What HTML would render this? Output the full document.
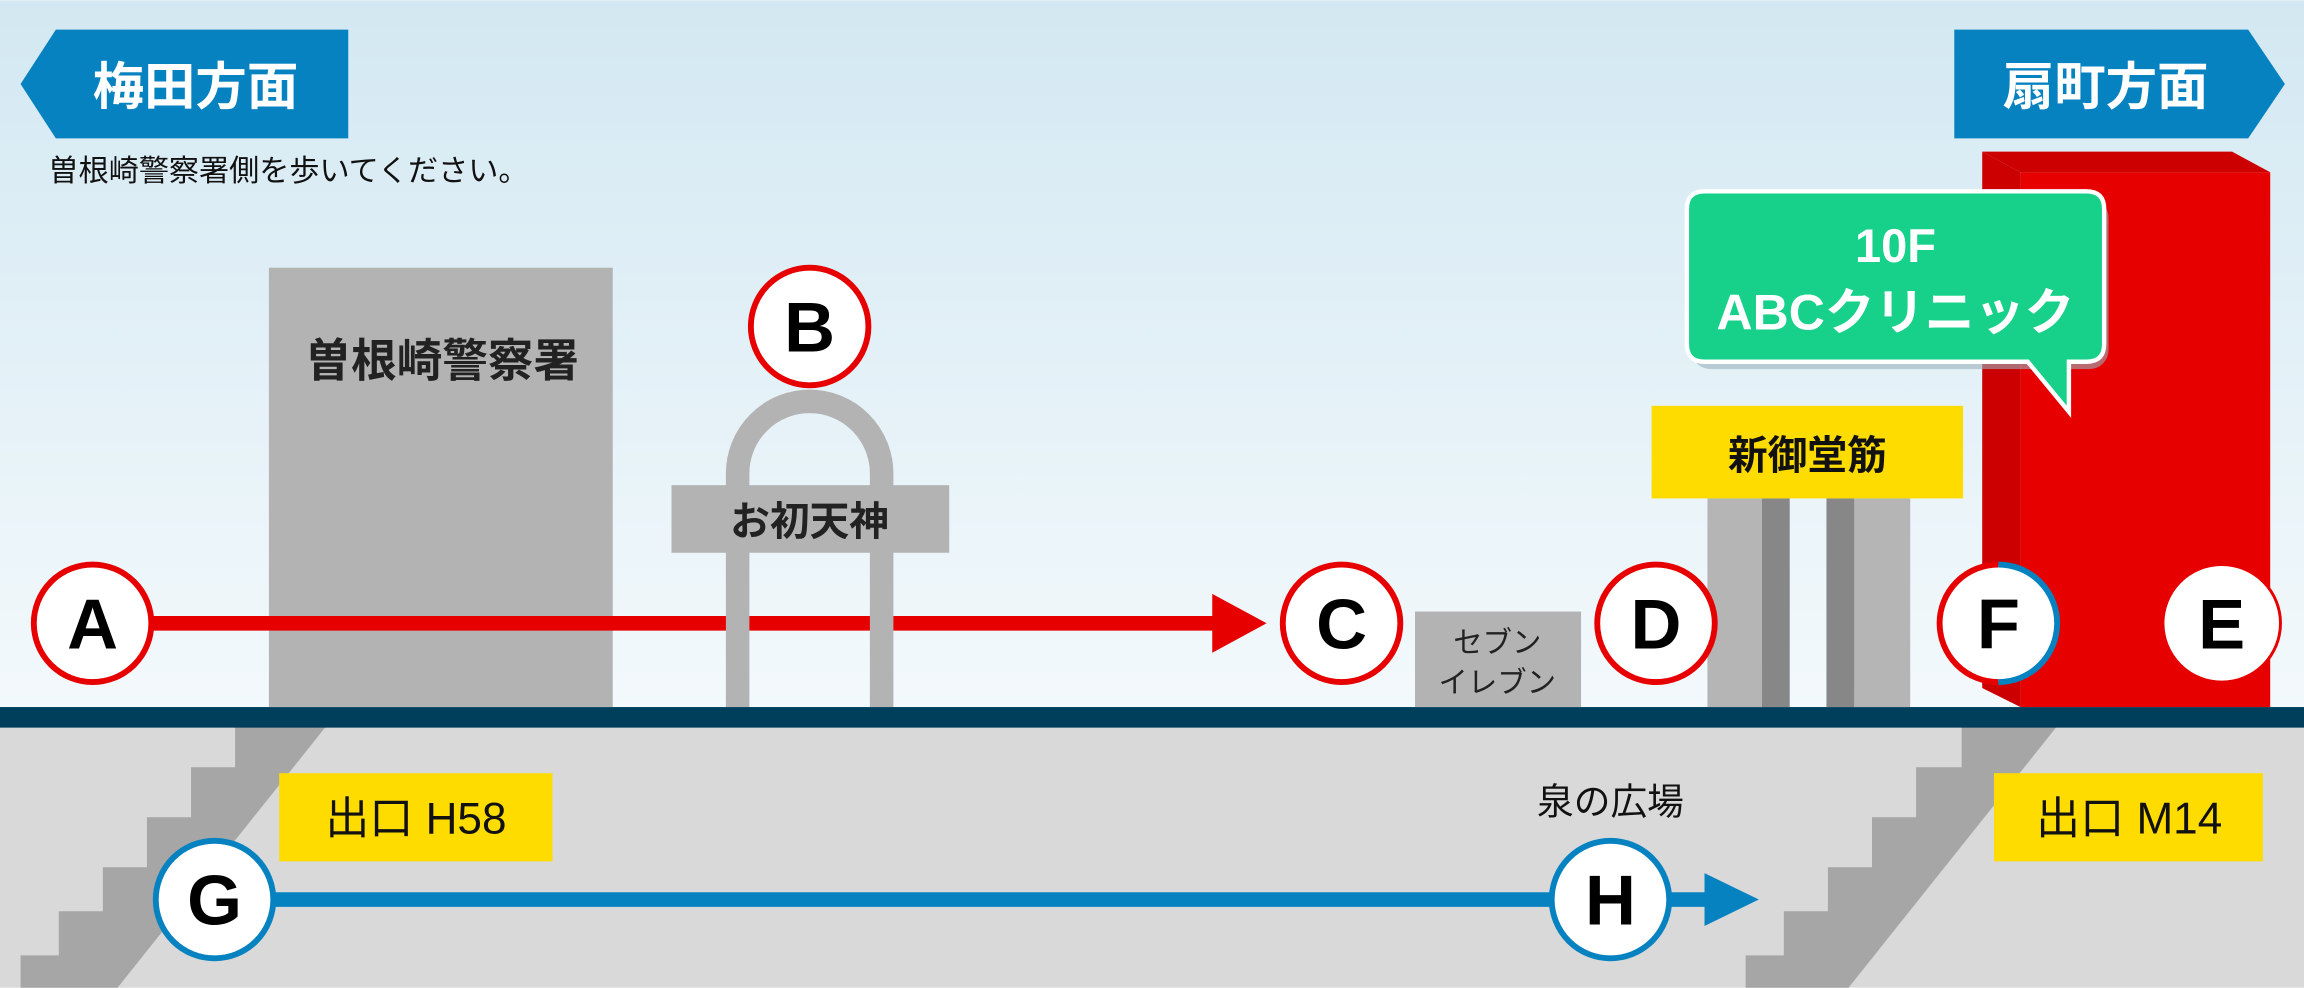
<!DOCTYPE html>
<html><head><meta charset="utf-8"><style>
html,body{margin:0;padding:0;width:2304px;height:988px;overflow:hidden;background:#fff}
svg{display:block}
text{font-family:"Liberation Sans","Noto Sans CJK JP",sans-serif}
</style></head><body>
<svg width="2304" height="988" viewBox="0 0 1568 672" xmlns="http://www.w3.org/2000/svg">
<defs>
<linearGradient id="sky" x1="0" y1="0" x2="0" y2="1">
<stop offset="0" stop-color="#d3e8f2"/><stop offset="1" stop-color="#f3f9fc"/>
</linearGradient>
</defs>
<rect x="0" y="0" width="1568" height="482" fill="url(#sky)"/>
<rect x="0" y="494" width="1568" height="178" fill="#d9d9d9"/>
<polygon points="160,494 222,494 80,672 14,672 14,650 40,650 40,620 70,620 70,590 100,590 100,556 130,556 130,522 160,522" fill="#a6a6a6"/>
<polygon points="1335,494 1400,494 1258,672 1188,672 1188,650 1214,650 1214,620 1244,620 1244,590 1274,590 1274,556 1304,556 1304,522 1335,522" fill="#a6a6a6"/>
<rect x="0" y="481" width="1568" height="14" fill="#003f5c"/>

<polygon points="14,57 38,20 237,20 237,94 38,94" fill="#0782c1"/>
<text x="133" y="71" font-size="35" font-weight="bold" fill="#fff" text-anchor="middle">梅田方面</text>
<text x="33" y="123" font-size="20.5" fill="#111">曽根崎警察署側を歩いてください。</text>

<polygon points="1349,103 1519,103 1545,117 1375,117" fill="#cc0000"/>
<polygon points="1349,103 1375,117 1375,481 1349,468" fill="#cc0000"/>
<rect x="1375" y="117" width="170" height="364" fill="#e60000"/>
<polygon points="1330,20 1530,20 1555,57 1530,94 1330,94" fill="#0782c1"/>
<text x="1433" y="71" font-size="35" font-weight="bold" fill="#fff" text-anchor="middle">扇町方面</text>

<rect x="1151" y="135" width="284" height="116" rx="13" fill="#9bb0bd" opacity="0.6"/>
<path d="M1160,130 H1420 Q1432,130 1432,142 V234 Q1432,246 1420,246 H1408 V280 L1380,246 H1160 Q1148,246 1148,234 V142 Q1148,130 1160,130 Z" fill="#17d08a" stroke="#fff" stroke-width="3"/>
<text x="1290" y="178" font-size="32" font-weight="bold" fill="#fff" text-anchor="middle">10F</text>
<text x="1290" y="224" font-size="34" font-weight="bold" fill="#fff" text-anchor="middle">ABCクリニック</text>

<rect x="183" y="182" width="234" height="299" fill="#b3b3b3"/>
<text x="301" y="256" font-size="31" font-weight="bold" fill="#222" text-anchor="middle">曽根崎警察署</text>

<line x1="100" y1="424" x2="830" y2="424" stroke="#e60000" stroke-width="10"/>
<polygon points="825,404 862,424 825,444" fill="#e60000"/>

<path d="M502,481 V322 A49,49 0 0 1 600,322 V481" fill="none" stroke="#b3b3b3" stroke-width="16"/>
<rect x="457" y="330" width="189" height="46" fill="#b3b3b3"/>
<text x="551" y="364" font-size="27" font-weight="bold" fill="#222" text-anchor="middle">お初天神</text>

<rect x="963" y="416" width="113" height="65" fill="#b3b3b3"/>
<text x="1019" y="444" font-size="20" fill="#222" text-anchor="middle">セブン</text>
<text x="1019" y="471" font-size="20" fill="#222" text-anchor="middle">イレブン</text>

<rect x="1162" y="339" width="37" height="142" fill="#b5b5b5"/>
<rect x="1199" y="339" width="19" height="142" fill="#878787"/>
<rect x="1243" y="339" width="19" height="142" fill="#878787"/>
<rect x="1262" y="339" width="38" height="142" fill="#b5b5b5"/>
<rect x="1124" y="276" width="212" height="63" fill="#ffdc00"/>
<text x="1230" y="319" font-size="27" font-weight="bold" fill="#111" text-anchor="middle">新御堂筋</text>

<g font-size="48" font-weight="bold" text-anchor="middle" fill="#000">
<circle cx="63" cy="424" r="40" fill="#fff" stroke="#e60000" stroke-width="4"/><text x="63" y="441">A</text>
<circle cx="551" cy="222" r="40" fill="#fff" stroke="#e60000" stroke-width="4"/><text x="551" y="239">B</text>
<circle cx="913" cy="424" r="40" fill="#fff" stroke="#e60000" stroke-width="4"/><text x="913" y="441">C</text>
<circle cx="1127" cy="424" r="40" fill="#fff" stroke="#e60000" stroke-width="4"/><text x="1127" y="441">D</text>
<circle cx="1360" cy="424" r="40" fill="#fff"/>
<path d="M1360,384 A40,40 0 0 0 1360,464" fill="none" stroke="#e60000" stroke-width="4"/>
<path d="M1360,384 A40,40 0 0 1 1360,464" fill="none" stroke="#0782c1" stroke-width="4"/>
<text x="1360" y="441">F</text>
<circle cx="1512" cy="424" r="40" fill="#fff" stroke="#e60000" stroke-width="2"/><text x="1512" y="441">E</text>
</g>

<rect x="190" y="526" width="186" height="60" fill="#ffdc00"/>
<text x="283" y="567" font-size="30" fill="#111" text-anchor="middle">出口 H58</text>
<rect x="1357" y="526" width="183" height="60" fill="#ffdc00"/>
<text x="1449" y="567" font-size="30" fill="#111" text-anchor="middle">出口 M14</text>
<text x="1096" y="554" font-size="25" fill="#111" text-anchor="middle">泉の広場</text>

<line x1="150" y1="612" x2="1162" y2="612" stroke="#0782c1" stroke-width="10"/>
<polygon points="1160,594 1197,612 1160,630" fill="#0782c1"/>
<g font-size="48" font-weight="bold" text-anchor="middle" fill="#000">
<circle cx="146" cy="612" r="40" fill="#fff" stroke="#0782c1" stroke-width="4"/><text x="146" y="629">G</text>
<circle cx="1096" cy="612" r="40" fill="#fff" stroke="#0782c1" stroke-width="4"/><text x="1096" y="629">H</text>
</g>
</svg>
</body></html>
